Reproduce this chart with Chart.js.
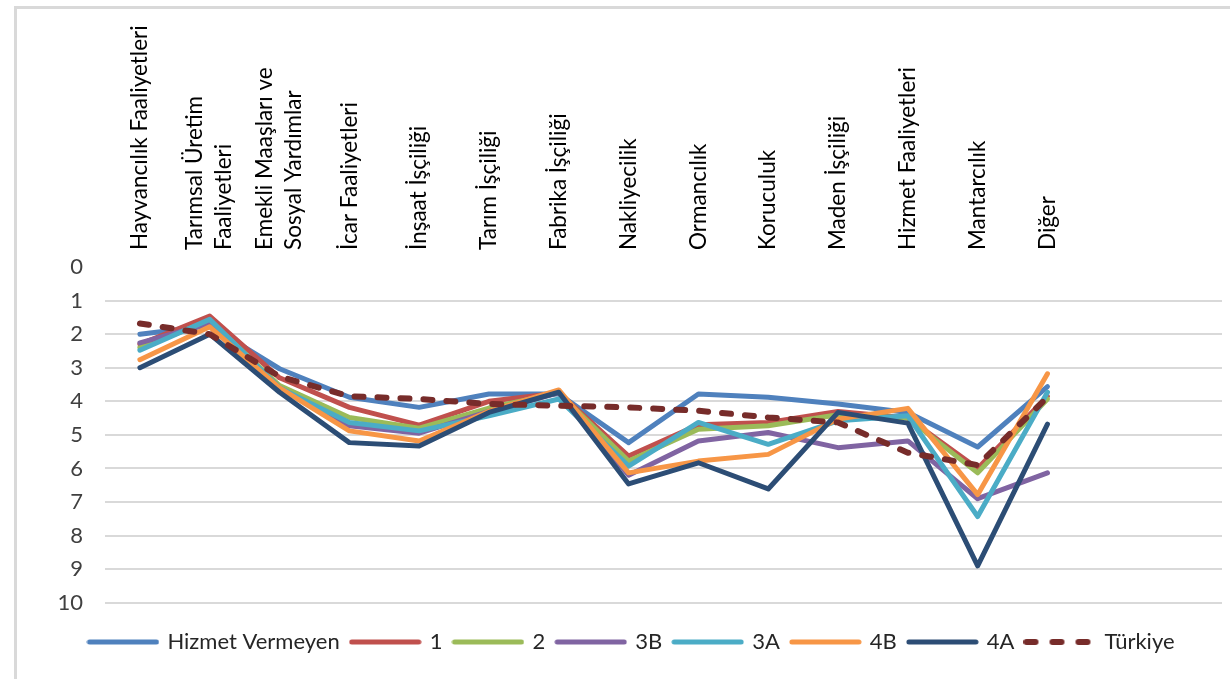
<!DOCTYPE html>
<html>
<head>
<meta charset="utf-8">
<script src="https://cdn.jsdelivr.net/npm/chart.js@4"></script>
<style>
  html, body { margin: 0; padding: 0; background: #fff; }
  #wrap { position: relative; width: 1230px; height: 679px; overflow: hidden; }
  #frame { position: absolute; left: 14px; top: 6px; width: 1300px; height: 800px;
           border-left: 3px solid #d9d9d9; border-top: 3px solid #d9d9d9; }
  canvas { position: absolute; left: 0; top: 0; }
</style>
</head>
<body>
<div id="wrap">
  <div id="frame"></div>
  <canvas id="chart" width="1230" height="679"></canvas>
</div>
<script>
// categories (last two slots are empty in the original)
const categories = [
  'Hayvancılık Faaliyetleri',
  ['Tarımsal Üretim', 'Faaliyetleri'],
  ['Emekli Maaşları ve', 'Sosyal Yardımlar'],
  'İcar Faaliyetleri',
  'İnşaat İşçiliği',
  'Tarım İşçiliği',
  'Fabrika İşçiliği',
  'Nakliyecilik',
  'Ormancılık',
  'Koruculuk',
  'Maden İşçiliği',
  'Hizmet Faaliyetleri',
  'Mantarcılık',
  'Diğer',
  '', ''
];

const seriesNames = ['Hizmet Vermeyen', '1', '2', '3B', '3A', '4B', '4A', 'Türkiye'];

const hizmetVermeyen = [2.0, 1.75, 3.03, 3.88, 4.18, 3.78, 3.78, 5.23, 3.78, 3.88, 4.08, 4.33, 5.36, 3.56];
const s1  = [2.3, 1.46, 3.3, 4.18, 4.71, 4.0, 3.75, 5.63, 4.7, 4.63, 4.3, 4.5, 6.0, 3.85];
const s2  = [2.4, 1.6, 3.53, 4.48, 4.8, 4.2, 3.75, 5.78, 4.83, 4.73, 4.4, 4.5, 6.13, 3.93];
const s3B = [2.26, 1.68, 3.6, 4.73, 4.95, 4.3, 3.75, 6.2, 5.18, 4.93, 5.38, 5.18, 6.9, 6.13];
const s3A = [2.48, 1.56, 3.6, 4.63, 4.88, 4.43, 3.93, 5.93, 4.63, 5.28, 4.58, 4.43, 7.43, 3.73];
const s4B = [2.76, 1.78, 3.6, 4.88, 5.18, 4.3, 3.66, 6.13, 5.78, 5.58, 4.53, 4.21, 6.78, 3.18];
const s4A = [3.0, 2.0, 3.73, 5.23, 5.33, 4.33, 3.73, 6.46, 5.83, 6.61, 4.33, 4.65, 8.9, 4.68];
const turkiye = [1.68, 2.0, 3.26, 3.85, 3.93, 4.08, 4.13, 4.18, 4.28, 4.48, 4.63, 5.53, 5.9, 3.88];

const yTicks = [0, 1, 2, 3, 4, 5, 6, 7, 8, 9, 10];

const allSeries = [hizmetVermeyen, s1, s2, s3B, s3A, s4B, s4A, turkiye];
const colors = ['#4F81BD', '#C0504D', '#9BBB59', '#8064A2', '#4BACC6', '#F79646', '#2C4D75', '#772C2A'];

const FONT = 'Lato';

// little line samples for the legend (the built-in one ignores dashes with point styles)
function legendSwatch(color, width, dash) {
  const c = document.createElement('canvas');
  c.width = 73;
  c.height = 10;
  const g = c.getContext('2d');
  g.strokeStyle = color;
  g.lineWidth = width;
  g.lineCap = 'round';
  g.setLineDash(dash);
  g.beginPath();
  g.moveTo(3, 5);
  g.lineTo(70, 5);
  g.stroke();
  return c;
}

const datasets = allSeries.map((vals, i) => {
  const isTr = i === 7;
  const w = isTr ? 6 : 5;
  return {
    label: seriesNames[i],
    data: vals,
    borderColor: colors[i],
    backgroundColor: colors[i],
    borderWidth: w,
    borderDash: isTr ? [9, 14] : [],
    borderCapStyle: 'round',
    borderJoinStyle: 'round',
    pointStyle: legendSwatch(colors[i], w, isTr ? [9, 17] : []),
    pointRadius: 0,
    pointHoverRadius: 0,
    tension: 0,
    order: 7 - i  // later series drawn on top, like the original
  };
});

// vertical category labels above the plot, centred on each category
const topLabels = {
  id: 'topLabels',
  afterDraw(chart) {
    const x = chart.scales.x;
    const ctx = chart.ctx;
    const lh = 29;
    ctx.save();
    ctx.fillStyle = '#000';
    ctx.font = '22.5px ' + FONT;
    ctx.textAlign = 'left';
    ctx.textBaseline = 'middle';
    categories.forEach((lab, i) => {
      const lines = Array.isArray(lab) ? lab : [lab];
      const px = x.getPixelForValue(i);
      lines.forEach((ln, j) => {
        const off = (j - (lines.length - 1) / 2) * lh;
        ctx.save();
        ctx.translate(px + off, x.bottom - 17);
        ctx.rotate(-Math.PI / 2);
        ctx.fillText(ln, 0, 0);
        ctx.restore();
      });
    });
    ctx.restore();
  }
};

new Chart(document.getElementById('chart'), {
  type: 'line',
  data: { labels: categories, datasets: datasets },
  plugins: [topLabels],
  options: {
    responsive: false,
    animation: false,
    layout: { padding: { left: 42, right: 8, top: 0, bottom: 16 } },
    plugins: {
      tooltip: { enabled: false },
      legend: {
        position: 'bottom',
        title: { display: true, text: ' ', font: { size: 1 }, padding: { top: 0, bottom: 15 } },
        labels: {
          usePointStyle: true,
          pointStyleWidth: 67,
          padding: 12,
          color: '#262626',
          font: { family: FONT, size: 22 },
          sort: (a, b) => a.datasetIndex - b.datasetIndex
        }
      }
    },
    scales: {
      x: {
        position: 'top',
        offset: true,
        grid: { display: false },
        border: { display: false },
        afterFit: (scale) => { scale.height = 267; },
        ticks: { display: false, autoSkip: false }
      },
      y: {
        reverse: true,
        min: yTicks[0],
        max: yTicks[yTicks.length - 1],
        afterBuildTicks: (scale) => { scale.ticks = yTicks.map(v => ({ value: v })); },
        afterFit: (scale) => { scale.width = 63; },
        grid: {
          drawTicks: false,
          lineWidth: 2,
          color: (ctx) => ctx.tick && ctx.tick.value === 0 ? 'rgba(0,0,0,0)' : '#D9D9D9'
        },
        border: { display: false },
        ticks: {
          padding: 22,
          color: '#404040',
          font: { family: FONT, size: 22 }
        }
      }
    }
  }
});
</script>
</body>
</html>
